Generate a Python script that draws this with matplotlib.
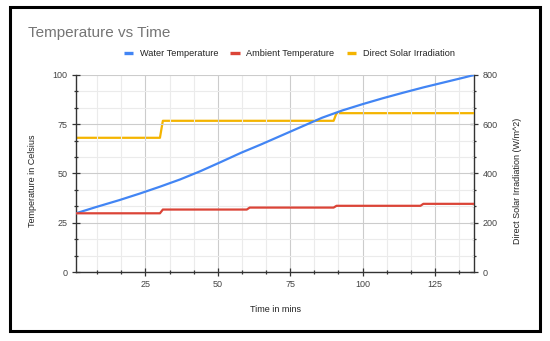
import matplotlib
matplotlib.use("Agg")
import matplotlib.pyplot as plt
from matplotlib.ticker import MultipleLocator
from matplotlib.lines import Line2D
from matplotlib.patches import Rectangle

plt.rcParams['font.family'] = ['Liberation Sans', 'DejaVu Sans']

# ---- data ----
water_t = [1, 8, 16, 23, 30, 37, 44, 51, 58, 65, 72, 79, 86, 93, 100, 107, 114, 121, 128, 135, 138.5]
water_temp = [29.8, 33.0, 36.5, 39.8, 43.3, 47.0, 51.2, 55.8, 60.5, 64.8, 69.3, 73.8, 78.3, 82.0, 85.2, 88.2, 91.0, 93.7, 96.2, 98.7, 100.0]

amb_t = [1, 30, 31, 60, 61, 90, 91, 120, 121, 138.5]
amb_temp = [29.8, 29.8, 31.7, 31.7, 32.7, 32.7, 33.6, 33.6, 34.6, 34.6]

sol_t = [1, 30, 31, 90, 91, 138.5]
sol_irr = [545, 545, 614, 614, 645, 645]

title = "Temperature vs Time"
series_names = ["Water Temperature", "Ambient Temperature", "Direct Solar Irradiation"]
colors = ["#4285F4", "#DB4437", "#F4B400"]
xlabel = "Time in mins"
ylabel_left = "Temperature in Celsius"
ylabel_right = "Direct Solar Irradiation (W/m^2)"

W, H = 550, 341
fig = plt.figure(figsize=(W / 100, H / 100), dpi=100)
fig.patch.set_facecolor("white")

L, R, T, B = 76, 474, 75, 272
ax = fig.add_axes([L / W, 1 - B / H, (R - L) / W, (B - T) / H])
ax2 = ax.twinx()

tick_color = "#444444"
axis_color = "#333333"
fs = 6.5

ax.plot(water_t, water_temp, color=colors[0], lw=1.6, zorder=3, solid_joinstyle='round')
ax.plot(amb_t, amb_temp, color=colors[1], lw=1.6, zorder=3)
ax2.plot(sol_t, sol_irr, color=colors[2], lw=1.6, zorder=3)

ax.set_xlim(1, 138.5)
ax.set_ylim(0, 100)
ax2.set_ylim(0, 800)

ax.xaxis.set_major_locator(MultipleLocator(25))
ax.xaxis.set_minor_locator(MultipleLocator(25 / 3))
ax.yaxis.set_major_locator(MultipleLocator(25))
ax.yaxis.set_minor_locator(MultipleLocator(25 / 3))
ax2.yaxis.set_major_locator(MultipleLocator(200))
ax2.yaxis.set_minor_locator(MultipleLocator(200 / 3))

ax.grid(which='major', color='#cccccc', lw=0.8, zorder=0)
ax.grid(which='minor', color='#ebebeb', lw=0.8, zorder=0)
ax.set_axisbelow(True)

for a in (ax, ax2):
    a.spines['top'].set_visible(False)
ax.spines['right'].set_visible(False)
ax2.spines['left'].set_visible(False)
ax2.spines['bottom'].set_visible(False)
for s in ('left', 'bottom'):
    ax.spines[s].set_color(axis_color)
    ax.spines[s].set_linewidth(1.0)
ax2.spines['right'].set_color(axis_color)
ax2.spines['right'].set_linewidth(1.0)

ax.tick_params(which='major', direction='inout', length=6, width=0.9, color=axis_color,
               labelsize=fs, labelcolor=tick_color, pad=3)
ax.tick_params(which='minor', direction='inout', length=3.5, width=0.9, color=axis_color)
ax2.tick_params(which='major', direction='inout', length=6, width=0.9, color=axis_color,
                labelsize=fs, labelcolor=tick_color, pad=3)
ax2.tick_params(which='minor', direction='inout', length=3.5, width=0.9, color=axis_color)

ax.set_zorder(2)
ax.patch.set_visible(False)
ax2.set_zorder(1)

fig.text(28 / W, 1 - 33 / H, title, fontsize=11, color="#757575", ha='left', va='center')

fig.text(275 / W, 1 - 309 / H, xlabel, fontsize=fs, color="#222222", ha='center', va='center')
fig.text(32.5 / W, 1 - 181 / H, ylabel_left, fontsize=fs, color="#222222", ha='center', va='center', rotation=90)
fig.text(518 / W, 1 - 181 / H, ylabel_right, fontsize=fs, color="#222222", ha='center', va='center', rotation=90)

handles = [Line2D([], [], color=c, lw=2.4, solid_capstyle='butt') for c in colors]
fig.legend(handles, series_names, loc='center left', bbox_to_anchor=(124 / W, 1 - 54 / H),
           bbox_transform=fig.transFigure, ncol=3, frameon=False, fontsize=6.6,
           handlelength=1.0, handletextpad=0.75, columnspacing=1.3, borderpad=0,
           borderaxespad=0, labelcolor="#222222")

fig.add_artist(Rectangle((9.5 / W, 1 - 331 / H), (540.5 - 9.5) / W, (331 - 6.5) / H,
                         transform=fig.transFigure, fill=False, lw=2.2, edgecolor='black'))

fig.savefig("out.png", dpi=100, facecolor="white")
